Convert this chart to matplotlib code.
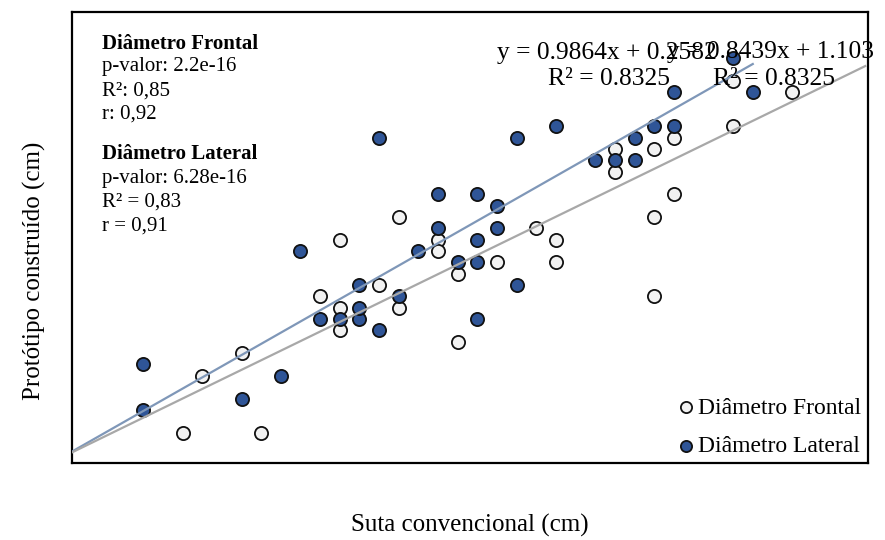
import matplotlib.pyplot as plt
import numpy as np

# Diâmetro Frontal (suta x protótipo), cm
frontal_x = [9.0, 11.0, 9.5, 10.5, 13.0, 13.0, 12.5, 13.0, 14.5, 14.0,
             14.5, 15.5, 15.5, 16.0, 16.0, 17.0, 18.0, 18.5, 18.5, 20.0,
             20.0, 21.0, 21.5, 21.5, 21.0, 21.0, 23.0, 23.0, 24.5]
frontal_y = [7.2, 7.2, 9.7, 10.7, 11.7, 12.7, 13.2, 15.7, 16.7, 13.7,
             12.7, 15.7, 15.2, 14.2, 11.2, 14.7, 16.2, 15.7, 14.7, 19.7,
             18.7, 19.7, 20.2, 17.7, 16.7, 13.2, 22.7, 20.7, 22.2]

# Diâmetro Lateral
lateral_x = [8.0, 8.0, 10.5, 11.5, 12.0, 12.5, 13.0, 13.5, 13.5, 13.5,
             14.0, 14.5, 14.0, 15.0, 15.5, 15.5, 16.5, 17.0, 17.0, 16.5,
             16.0, 16.5, 17.5, 16.5, 17.5, 18.5, 19.5, 20.0, 20.5, 20.5,
             21.0, 21.5, 21.5, 23.0, 23.5]
lateral_y = [10.2, 8.2, 8.7, 9.7, 15.2, 12.2, 12.2, 12.2, 12.7, 13.7,
             11.7, 13.2, 20.2, 15.2, 16.2, 17.7, 17.7, 17.2, 16.2, 15.7,
             14.7, 14.7, 13.7, 12.2, 20.2, 20.7, 19.2, 19.2, 19.2, 20.2,
             20.7, 20.7, 22.2, 23.7, 22.2]

# trendlines as printed on the chart
lat_coef = (0.9864, 0.2582)
fro_coef = (0.8439, 1.103)
lat_span = (6.19, 23.5)
fro_span = (6.19, 26.36)

SERIF = ["Liberation Serif", "DejaVu Serif"]
plt.rcParams["font.family"] = SERIF

fig = plt.figure(figsize=(8.85, 5.4), dpi=100)
ax = fig.add_axes([72 / 885, 77 / 540, 796 / 885, 451 / 540])

ax.scatter(frontal_x, frontal_y, s=90, facecolor="#F2F2F2", edgecolor="#111111",
           linewidth=1.3, zorder=2, label="Diâmetro Frontal")
ax.scatter(lateral_x, lateral_y, s=90, facecolor="#2F5597", edgecolor="#111111",
           linewidth=1.3, zorder=2, label="Diâmetro Lateral")

xl = np.array(lat_span)
ax.plot(xl, lat_coef[0] * xl + lat_coef[1], color="#7F97B8", lw=1.6, zorder=3)
xf = np.array(fro_span)
ax.plot(xf, fro_coef[0] * xf + fro_coef[1], color="#A8A8A8", lw=1.6, zorder=3)

ax.set_xlim(6.19, 26.43)
ax.set_ylim(5.86, 25.73)
ax.set_xticks([])
ax.set_yticks([])
for sp in ax.spines.values():
    sp.set_linewidth(1.6)
    sp.set_color("black")

ax.set_xlabel("Suta convencional (cm)", fontsize=18)
ax.set_ylabel("Protótipo construído (cm)", fontsize=18)
# labels sit lower / further out than matplotlib's defaults
ax.xaxis.set_label_coords(0.5, -0.112)
ax.yaxis.set_label_coords(-0.033, 0.427)

leg = ax.legend(loc="lower right", bbox_to_anchor=(1.003, -0.008), frameon=False,
                fontsize=17, handletextpad=0.0, labelspacing=0.72,
                borderaxespad=0.0, handlelength=1.0, markerscale=0.85)

# stats block, top left
def px(x, y):
    return x / 885, 1 - y / 540

stats = [("Diâmetro Frontal", 44, "bold"), ("p-valor: 2.2e-16", 67, "normal"),
         ("R²: 0,85", 91, "normal"), ("r: 0,92", 114, "normal"),
         ("Diâmetro Lateral", 154, "bold"), ("p-valor: 6.28e-16", 178, "normal"),
         ("R² = 0,83", 202, "normal"), ("r = 0,91", 226, "normal")]
for txt, yy, w in stats:
    fig.text(*px(102, yy), txt, fontsize=15, fontweight=w, va="center", ha="left")

# trendline equations (they overlap in the original too)
fig.text(*px(497, 53), "y = 0.9864x + 0.2582", fontsize=18.4, va="center", ha="left")
fig.text(*px(548, 79), "R² = 0.8325", fontsize=18.4, va="center", ha="left")
fig.text(*px(667, 52), "y = 0.8439x + 1.103", fontsize=18.4, va="center", ha="left")
fig.text(*px(713, 79), "R² = 0.8325", fontsize=18.4, va="center", ha="left")

fig.savefig("out.png", dpi=100)
